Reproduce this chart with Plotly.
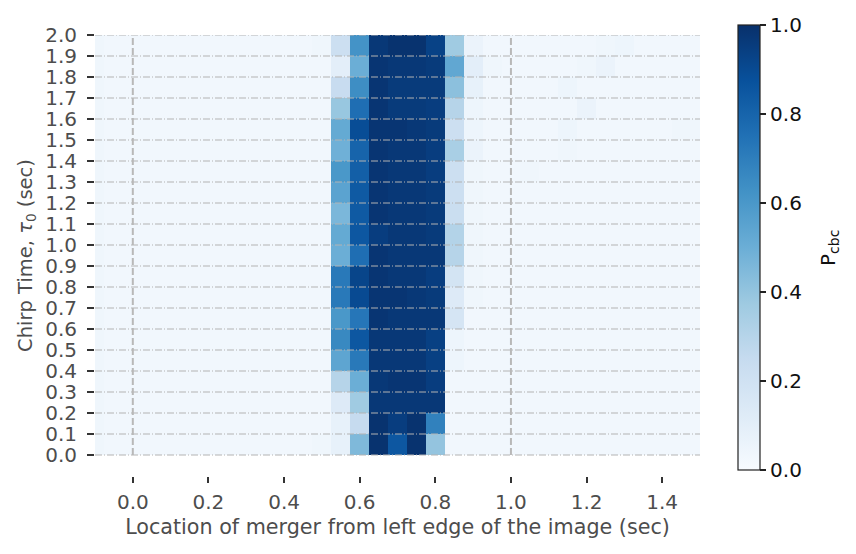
import plotly.graph_objects as go

# Merger location (x cell centres, sec) and chirp time (y cell centres, sec)
merger_loc = [-0.10, -0.05, 0.00, 0.05, 0.10, 0.15, 0.20, 0.25, 0.30, 0.35, 0.40,
              0.45, 0.50, 0.55, 0.60, 0.65, 0.70, 0.75, 0.80, 0.85, 0.90, 0.95,
              1.00, 1.05, 1.10, 1.15, 1.20, 1.25, 1.30, 1.35, 1.40, 1.45, 1.50]
chirp_time = [0.05, 0.15, 0.25, 0.35, 0.45, 0.55, 0.65, 0.75, 0.85, 0.95,
              1.05, 1.15, 1.25, 1.35, 1.45, 1.55, 1.65, 1.75, 1.85, 1.95]

# P_cbc values, one row per chirp time (bottom -> top), one column per merger location
p_cbc = [
    [0.04,0.03,0.03,0.03,0.03,0.03,0.03,0.03,0.03,0.03,0.03,0.03, 0.04,0.08,0.45,0.99,0.85,0.99,0.40,0.03,0.03,0.03, 0.03,0.03,0.03,0.03,0.03,0.03,0.03,0.03,0.03,0.03,0.03],
    [0.04,0.03,0.03,0.03,0.03,0.03,0.03,0.03,0.03,0.03,0.03,0.03, 0.03,0.08,0.25,0.99,0.95,0.99,0.69,0.03,0.03,0.03, 0.03,0.03,0.03,0.03,0.03,0.03,0.03,0.03,0.03,0.03,0.03],
    [0.04,0.03,0.03,0.03,0.03,0.03,0.03,0.03,0.03,0.03,0.03,0.03, 0.03,0.13,0.37,0.97,0.97,0.97,0.97,0.03,0.03,0.03, 0.03,0.03,0.03,0.03,0.03,0.03,0.03,0.03,0.03,0.03,0.03],
    [0.04,0.03,0.03,0.03,0.03,0.03,0.03,0.03,0.03,0.03,0.03,0.03, 0.03,0.30,0.50,0.97,0.98,0.98,0.95,0.03,0.03,0.03, 0.03,0.03,0.03,0.03,0.03,0.03,0.03,0.03,0.03,0.03,0.03],
    [0.04,0.03,0.03,0.03,0.03,0.03,0.03,0.03,0.03,0.03,0.03,0.03, 0.03,0.54,0.72,0.97,0.97,0.97,0.94,0.05,0.03,0.03, 0.03,0.03,0.03,0.03,0.03,0.03,0.03,0.03,0.03,0.03,0.03],
    [0.04,0.03,0.03,0.03,0.03,0.03,0.03,0.03,0.03,0.03,0.03,0.03, 0.03,0.66,0.85,0.97,0.97,0.97,0.94,0.05,0.03,0.03, 0.03,0.03,0.03,0.03,0.03,0.03,0.03,0.03,0.03,0.03,0.03],
    [0.04,0.03,0.03,0.03,0.03,0.03,0.03,0.03,0.03,0.03,0.03,0.03, 0.03,0.60,0.73,0.98,0.97,0.97,0.97,0.17,0.03,0.03, 0.03,0.03,0.03,0.03,0.03,0.03,0.03,0.03,0.03,0.03,0.03],
    [0.04,0.03,0.03,0.03,0.03,0.03,0.03,0.03,0.03,0.03,0.03,0.03, 0.03,0.72,0.90,0.98,0.98,0.97,0.96,0.13,0.04,0.03, 0.03,0.03,0.03,0.03,0.03,0.03,0.03,0.03,0.03,0.03,0.03],
    [0.04,0.03,0.03,0.03,0.03,0.03,0.03,0.03,0.03,0.03,0.03,0.03, 0.03,0.72,0.92,0.98,0.97,0.97,0.95,0.18,0.04,0.03, 0.03,0.03,0.03,0.03,0.03,0.03,0.03,0.03,0.03,0.03,0.03],
    [0.04,0.03,0.03,0.03,0.03,0.03,0.03,0.03,0.03,0.03,0.03,0.03, 0.03,0.50,0.76,0.98,0.97,0.97,0.97,0.30,0.04,0.03, 0.03,0.03,0.03,0.03,0.03,0.03,0.03,0.03,0.03,0.03,0.03],
    [0.04,0.03,0.03,0.03,0.03,0.03,0.03,0.03,0.03,0.03,0.03,0.03, 0.03,0.52,0.85,0.95,0.97,0.97,0.96,0.31,0.04,0.03, 0.03,0.03,0.03,0.03,0.03,0.03,0.03,0.03,0.03,0.03,0.03],
    [0.04,0.03,0.03,0.03,0.03,0.03,0.03,0.03,0.03,0.03,0.03,0.03, 0.03,0.46,0.84,0.98,0.97,0.97,0.96,0.23,0.04,0.03, 0.03,0.03,0.03,0.03,0.03,0.03,0.03,0.03,0.03,0.03,0.03],
    [0.04,0.03,0.03,0.03,0.03,0.03,0.03,0.03,0.03,0.03,0.03,0.03, 0.03,0.55,0.84,0.98,0.97,0.97,0.96,0.22,0.04,0.03, 0.03,0.03,0.03,0.03,0.03,0.03,0.03,0.03,0.03,0.03,0.03],
    [0.04,0.03,0.03,0.03,0.03,0.03,0.03,0.03,0.03,0.03,0.03,0.03, 0.03,0.60,0.82,0.98,0.97,0.97,0.95,0.22,0.04,0.03, 0.03,0.04,0.03,0.03,0.03,0.03,0.03,0.03,0.03,0.03,0.03],
    [0.04,0.03,0.03,0.03,0.03,0.03,0.03,0.03,0.03,0.03,0.03,0.03, 0.03,0.49,0.80,0.98,0.97,0.97,0.95,0.34,0.06,0.03, 0.03,0.03,0.03,0.04,0.03,0.03,0.03,0.03,0.03,0.03,0.03],
    [0.04,0.03,0.03,0.03,0.03,0.03,0.03,0.03,0.03,0.03,0.03,0.03, 0.03,0.52,0.89,0.98,0.98,0.97,0.96,0.22,0.05,0.03, 0.03,0.03,0.03,0.05,0.03,0.03,0.03,0.03,0.03,0.04,0.04],
    [0.04,0.03,0.03,0.03,0.03,0.03,0.03,0.03,0.03,0.03,0.03,0.03, 0.03,0.39,0.76,0.98,0.96,0.96,0.95,0.30,0.05,0.03, 0.03,0.03,0.03,0.03,0.06,0.03,0.03,0.03,0.03,0.03,0.03],
    [0.04,0.03,0.03,0.03,0.03,0.03,0.03,0.03,0.03,0.03,0.03,0.03, 0.03,0.24,0.64,0.98,0.96,0.96,0.96,0.42,0.08,0.03, 0.03,0.03,0.03,0.05,0.03,0.03,0.03,0.03,0.03,0.03,0.03],
    [0.04,0.03,0.03,0.03,0.03,0.03,0.03,0.03,0.03,0.03,0.03,0.03, 0.03,0.10,0.50,0.98,0.97,0.97,0.96,0.53,0.10,0.04, 0.03,0.03,0.03,0.03,0.04,0.06,0.03,0.03,0.03,0.03,0.03],
    [0.04,0.03,0.03,0.03,0.03,0.03,0.03,0.03,0.03,0.03,0.03,0.03, 0.04,0.22,0.62,0.97,0.99,0.99,0.93,0.37,0.06,0.03, 0.03,0.03,0.03,0.03,0.03,0.04,0.05,0.03,0.03,0.03,0.03],
]

x_ticks = [0.0, 0.2, 0.4, 0.6, 0.8, 1.0, 1.2, 1.4]
y_ticks = [0.0, 0.1, 0.2, 0.3, 0.4, 0.5, 0.6, 0.7, 0.8, 0.9, 1.0,
           1.1, 1.2, 1.3, 1.4, 1.5, 1.6, 1.7, 1.8, 1.9, 2.0]
cbar_ticks = [0.0, 0.2, 0.4, 0.6, 0.8, 1.0]
image_edges = [0.0, 1.0]

blues = [
    [0.000, "rgb(247,251,255)"], [0.125, "rgb(222,235,247)"], [0.250, "rgb(198,219,239)"],
    [0.375, "rgb(158,202,225)"], [0.500, "rgb(107,174,214)"], [0.625, "rgb(66,146,198)"],
    [0.750, "rgb(33,113,181)"], [0.875, "rgb(8,81,156)"], [1.000, "rgb(8,48,107)"],
]

FONT = "DejaVu Sans"
GRAY = "#4d4d4d"
DARK = "#111111"

fig = go.Figure()
fig.add_trace(go.Heatmap(
    x=merger_loc, y=chirp_time, z=p_cbc,
    colorscale=blues, zmin=0, zmax=1,
    colorbar=dict(
        thickness=22, thicknessmode="pixels",
        len=445, lenmode="pixels",
        x=1.0628, xanchor="left", y=0.518, yanchor="middle",
        xpad=0, ypad=0,
        outlinewidth=1.2, outlinecolor="#222222",
        tickvals=cbar_ticks, tickformat=".1f",
        ticks="outside", ticklen=6, tickwidth=1.5, tickcolor="#222222",
        tickfont=dict(family=FONT, size=20, color=DARK),
    ),
))

shapes = []
for yv in y_ticks:
    shapes.append(dict(type="line", xref="x", yref="y",
                       x0=merger_loc[0], x1=merger_loc[-1], y0=yv, y1=yv,
                       layer="above",
                       line=dict(color="#b3b3b3", width=1, dash="7px,2px,1px,2px")))
for xv in image_edges:
    shapes.append(dict(type="line", xref="x", yref="y",
                       x0=xv, x1=xv, y0=y_ticks[0], y1=y_ticks[-1],
                       layer="above",
                       line=dict(color="#b8b8b8", width=2, dash="7px,3px")))

fig.update_layout(
    width=848, height=546,
    margin=dict(l=87, r=156, t=27, b=78),
    paper_bgcolor="white", plot_bgcolor="white",
    font=dict(family=FONT, size=20, color=GRAY),
    shapes=shapes,
    annotations=[dict(
        text="P<sub>cbc</sub>", textangle=-90,
        xref="paper", yref="paper", x=1.2132, y=0.517,
        xanchor="center", yanchor="middle", showarrow=False,
        font=dict(family=FONT, size=20, color=DARK),
    )],
    xaxis=dict(
        range=[-0.1, 1.5], tickvals=x_ticks, tickformat=".1f",
        ticks="outside", ticklen=6, tickwidth=1.5, tickcolor="#333333",
        showgrid=False, zeroline=False, showline=False,
        ticklabelstandoff=2,
        tickfont=dict(family=FONT, size=20, color=GRAY),
        title=dict(text="Location of merger from left edge of the image (sec)",
                   font=dict(family=FONT, size=20.7, color=GRAY), standoff=6),
    ),
    yaxis=dict(
        range=[-0.1, 2.0], tickvals=y_ticks, tickformat=".1f",
        ticks="outside", ticklen=7, tickwidth=1.5, tickcolor="#333333",
        showgrid=False, zeroline=False, showline=False,
        ticklabelstandoff=6,
        tickfont=dict(family=FONT, size=20, color=GRAY),
        title=dict(text="Chirp Time, <i>τ</i><sub>0</sub> (sec)",
                   font=dict(family=FONT, size=19.5, color=GRAY), standoff=7),
    ),
)

fig.write_html("out.html")
